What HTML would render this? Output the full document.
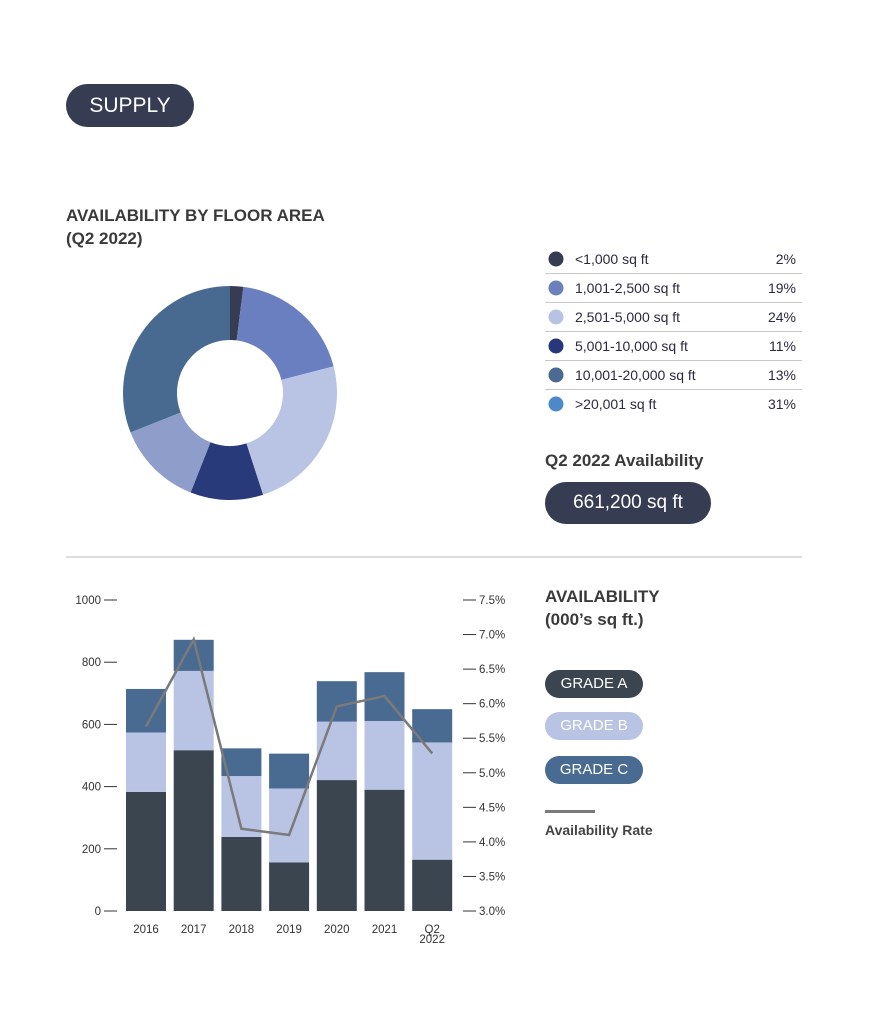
<!DOCTYPE html>
<html><head><meta charset="utf-8"><style>
body{margin:0;background:#fff;font-family:"Liberation Sans",sans-serif;}
#root{position:relative;width:869px;height:1021px;overflow:hidden;}
.abs{position:absolute;}
.pill{background:#363c52;color:#fff;border-radius:22px;text-align:center;}
.h{font-weight:bold;color:#3a3a3a;}
</style></head><body>
<div id="root">
<div class="abs pill" style="left:66px;top:84px;width:128px;height:43px;line-height:43px;font-size:21px;">SUPPLY</div>
<div class="abs h" style="left:66px;top:204px;font-size:17px;line-height:23px;">AVAILABILITY BY FLOOR AREA<br>(Q2 2022)</div>
<svg class="abs" style="left:0;top:0" width="869" height="1021">
<g id="donut"></g>
<g id="legend"></g>
<line x1="66" y1="557" x2="802" y2="557" stroke="#bbb" stroke-width="1"/>
<g id="bars"></g>
</svg>
<div class="abs h" style="left:545px;top:451px;font-size:17px;">Q2 2022 Availability</div>
<div class="abs pill" style="left:545px;top:482px;width:166px;height:42px;line-height:42px;font-size:19px;">661,200 sq ft</div>
<div class="abs h" style="left:545px;top:585px;font-size:17px;line-height:23px;">AVAILABILITY<br>(000’s sq ft.)</div>
<div class="abs pill" style="left:545px;top:670px;width:98px;height:28px;line-height:28px;font-size:15px;border-radius:14px;background:#3a4550;">GRADE A</div>
<div class="abs pill" style="left:545px;top:712px;width:98px;height:28px;line-height:28px;font-size:15px;border-radius:14px;background:#b9c4e4;">GRADE B</div>
<div class="abs pill" style="left:545px;top:756px;width:98px;height:28px;line-height:28px;font-size:15px;border-radius:14px;background:#496a91;">GRADE C</div>
<div class="abs" style="left:545px;top:810px;width:50px;height:3px;background:#7a7a7a;"></div>
<div class="abs h" style="left:545px;top:822px;font-size:14px;color:#444;">Availability Rate</div>
</div>
<script>
const NS="http://www.w3.org/2000/svg";
function mk(p,t,a){const e=document.createElementNS(NS,t);for(const k in a)e.setAttribute(k,a[k]);p.appendChild(e);return e;}
// donut data
const sliceLabels=["<1,000 sq ft","1,001-2,500 sq ft","2,501-5,000 sq ft","5,001-10,000 sq ft","10,001-20,000 sq ft",">20,001 sq ft"];
const sliceValues=[2,19,24,11,13,31];
const sliceColors=["#363d52","#6a7fbf","#b9c4e4","#283a7a","#8e9dc9","#486a90"];
const legendColors=["#363c52","#6b80be","#b8c3e4","#28367a","#4a6a91","#4d88c8"];
const donut=document.getElementById('donut');
const cx=230,cy=393,R=107,r=53;
const tot=sliceValues.reduce((a,b)=>a+b,0);
let ang=0;
sliceValues.forEach((v,i)=>{
 const a0=ang/tot*2*Math.PI, a1=(ang+v)/tot*2*Math.PI; ang+=v;
 const P=(rad,a)=>[cx+rad*Math.sin(a),cy-rad*Math.cos(a)];
 const [x0,y0]=P(R,a0),[x1,y1]=P(R,a1),[x2,y2]=P(r,a1),[x3,y3]=P(r,a0);
 const lg=(a1-a0)>Math.PI?1:0;
 const p=mk(donut,'path',{d:`M${x0},${y0}A${R},${R} 0 ${lg} 1 ${x1},${y1}L${x2},${y2}A${r},${r} 0 ${lg} 0 ${x3},${y3}Z`,fill:sliceColors[i]});
 
 
});
const leg=document.getElementById('legend');
sliceLabels.forEach((l,i)=>{
 const y=259+i*29;
 const c=mk(leg,'circle',{cx:556,cy:y,r:7.5,fill:legendColors[i]});
 
 
 const t=mk(leg,'text',{x:575,y:y+5,'font-size':14,fill:'#2a2a40'});t.textContent=l;
 
 
 const t2=mk(leg,'text',{x:796,y:y+5,'font-size':14,fill:'#2a2a40','text-anchor':'end'});t2.textContent=sliceValues[i]+'%';
 
 
 if(i<5){const ln=mk(leg,'line',{x1:545,x2:802,y1:y+14.5,y2:y+14.5,stroke:'#c8c8c8'});
 
 }
});
// bar chart data
const categories=["2016","2017","2018","2019","2020","2021","Q2 2022"];
const gradeA=[383,517,238,156,421,390,165];
const gradeB=[191,255,196,238,188,221,377];
const gradeC=[140,100,89,112,130,157,107];
const rate=[5.67,6.93,4.19,4.10,5.96,6.11,5.28];
const leftTicks=[0,200,400,600,800,1000];
const rightTicks=[3.0,3.5,4.0,4.5,5.0,5.5,6.0,6.5,7.0,7.5];
const g=document.getElementById('bars');
const y0=911,y1=600;
const yL=v=>y0-(v/1000)*(y0-y1);
const yR=v=>y0-((v-3)/4.5)*(y0-y1);
const xC=i=>146+i*47.7;
const bw=40;
leftTicks.forEach(v=>{
 const t=mk(g,'text',{x:101,y:yL(v)+4,'font-size':11.5,fill:'#333','text-anchor':'end'});t.textContent=v;
 
 
 const l=mk(g,'line',{x1:104,x2:117,y1:yL(v),y2:yL(v),stroke:'#333'});
 
 
});
rightTicks.forEach(v=>{
 const l=mk(g,'line',{x1:463,x2:476,y1:yR(v),y2:yR(v),stroke:'#333'});
 
 
 const t=mk(g,'text',{x:479,y:yR(v)+4,'font-size':11.5,fill:'#333'});t.textContent=v.toFixed(1)+'%';
 
 
});
categories.forEach((c,i)=>{
 const x=xC(i)-bw/2;
 const segs=[[0,gradeA[i],'#3a4550'],[gradeA[i],gradeA[i]+gradeB[i],'#b9c4e4'],[gradeA[i]+gradeB[i],gradeA[i]+gradeB[i]+gradeC[i],'#496a91']];
 segs.forEach((s,k)=>{
  const rc=mk(g,'rect',{x:x,y:yL(s[1]),width:bw,height:yL(s[0])-yL(s[1]),fill:s[2]});
  
  
 });
 const parts=c.split(' ');
 parts.forEach((p,j)=>{
  const t=mk(g,'text',{x:xC(i),y:933+j*10,'font-size':11.5,fill:'#333','text-anchor':'middle'});t.textContent=p;
  
  
 });
});
const pl=mk(g,'polyline',{points:rate.map((v,i)=>xC(i)+','+yR(v)).join(' '),fill:'none',stroke:'#7a7a7a','stroke-width':2.5});


</script>
</body></html>
